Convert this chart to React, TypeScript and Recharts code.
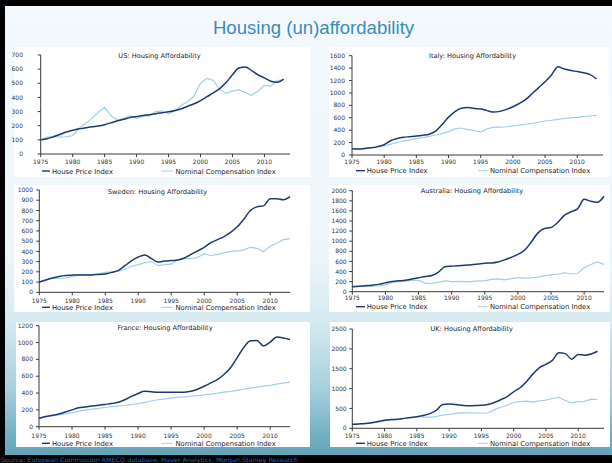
// Housing (un)affordability — six small house price vs compensation charts on one slide.

import { Line, LineChart, XAxis, YAxis } from "recharts";

const YEARS = [
  1975, 1976, 1977, 1978, 1979, 1980, 1981, 1982, 1983, 1984,
  1985, 1986, 1987, 1988, 1989, 1990, 1991, 1992, 1993, 1994,
  1995, 1996, 1997, 1998, 1999, 2000, 2001, 2002, 2003, 2004,
  2005, 2006, 2007, 2008, 2009, 2010, 2011, 2012, 2013,
];
const X_TICKS = [1975, 1980, 1985, 1990, 1995, 2000, 2005, 2010];

const US_HPI = [
  100, 108, 122, 138, 155, 168, 178, 185, 192, 198,
  207, 220, 235, 245, 258, 265, 272, 278, 285, 292,
  298, 308, 320, 338, 355, 378, 405, 432, 462, 505,
  560, 608, 615, 590, 560, 538, 515, 508, 530,
];
const US_COMP = [
  100, 120, 125, 120, 122, 130, 180, 215, 250, 295,
  330, 270, 240, 250, 270, 250, 265, 270, 300, 305,
  285, 305, 345, 370, 410, 500, 535, 520, 455, 430,
  445, 455, 435, 415, 445, 485, 480, 520, 525,
];
const US_Y = [0, 100, 200, 300, 400, 500, 600, 700];

const IT_HPI = [
  100, 95, 103, 115, 135, 165, 230, 265, 285, 295,
  305, 318, 335, 385, 490, 610, 700, 752, 765, 748,
  740, 715, 692, 703, 735, 778, 830, 895, 990, 1085,
  1180, 1290, 1420, 1385, 1360, 1345, 1325, 1295, 1225,
];
const IT_COMP = [
  100, 100, 108, 118, 130, 145, 175, 200, 225, 245,
  263, 280, 300, 322, 345, 376, 420, 435, 410, 395,
  368, 420, 448, 450, 455, 467, 480, 495, 510, 528,
  548, 560, 575, 588, 598, 607, 618, 628, 637,
];
const IT_Y = [0, 200, 400, 600, 800, 1000, 1200, 1400, 1600];

const SE_HPI = [
  100, 120, 140, 155, 165, 168, 170, 170, 170, 175,
  180, 195, 215, 260, 310, 345, 365, 330, 295, 305,
  310, 315, 335, 370, 405, 440, 485, 515, 545, 585,
  640, 715, 800, 835, 845, 915, 915, 905, 935,
];
const SE_COMP = [
  100, 125, 135, 135, 140, 155, 170, 175, 170, 180,
  195, 200, 205, 225, 255, 270, 290, 300, 260, 270,
  275, 320, 330, 330, 340, 375, 360, 370, 385, 400,
  405, 415, 440, 430, 395, 450, 480, 515, 525,
];
const SE_Y = [0, 100, 200, 300, 400, 500, 600, 700, 800, 900, 1000];

const AU_HPI = [
  100, 110, 120, 130, 145, 175, 200, 215, 225, 250,
  275, 300, 320, 390, 495, 505, 515, 525, 535, 550,
  565, 570, 590, 630, 680, 740, 820, 980, 1160, 1250,
  1270, 1370, 1510, 1580, 1640, 1830, 1790, 1770, 1890,
];
const AU_COMP = [
  100, 100, 105, 110, 115, 140, 185, 200, 205, 230,
  225, 170, 160, 190, 215, 200, 205, 200, 200, 215,
  215, 245, 255, 235, 260, 280, 270, 275, 290, 315,
  335, 345, 375, 355, 360, 475, 540, 590, 540,
];
const AU_Y = [0, 200, 400, 600, 800, 1000, 1200, 1400, 1600, 1800, 2000];

const FR_HPI = [
  100, 120, 135, 150, 175, 200, 225, 235, 245, 255,
  265, 275, 290, 320, 360, 395, 420, 415, 410, 408,
  408, 408, 410, 420, 445, 480, 520, 560, 620, 700,
  820, 940, 1020, 1025, 960, 1005, 1065, 1055, 1035,
];
const FR_COMP = [
  100, 115, 128, 140, 152, 168, 185, 198, 208, 218,
  228, 238, 245, 252, 262, 275, 290, 305, 320, 330,
  340, 348, 355, 362, 370, 378, 388, 398, 410, 420,
  432, 445, 458, 470, 482, 492, 505, 518, 530,
];
const FR_Y = [0, 200, 400, 600, 800, 1000, 1200];

const UK_HPI = [
  100, 110, 120, 140, 170, 205, 220, 230, 250, 270,
  290, 320, 370, 450, 600, 610, 600, 580, 565, 575,
  580, 600, 650, 720, 800, 920, 1020, 1180, 1370, 1530,
  1610, 1710, 1900, 1880, 1740, 1860, 1840, 1870, 1940,
];
const UK_COMP = [
  100, 110, 120, 135, 155, 185, 210, 220, 240, 260,
  285, 290, 275, 295, 330, 350, 375, 390, 390, 385,
  385, 385, 470, 530, 580, 650, 670, 685, 660, 690,
  710, 750, 780, 700, 640, 670, 680, 735, 720,
];
const UK_Y = [0, 500, 1000, 1500, 2000, 2500];

const DARK = "#1d3a70";
const LIGHT = "#a2cfe8";
const AXIS = "#3a3a3a";
const FONT = "'DejaVu Sans', sans-serif";

const PANELS = [
  {
    title: "US: Housing Affordability", hpi: US_HPI, comp: US_COMP, yTicks: US_Y, xEnd: 2014,
    box: { x: 8, y: 46, w: 302, h: 132 }, plot: { l: 40.7, r: 290, t: 55, b: 154 },
    yGap: 14.7, xGap: 3.2, tcx: 159.5, tcy: 56, ly: 171, col: "L",
  },
  {
    title: "Italy: Housing Affordability", hpi: IT_HPI, comp: IT_COMP, yTicks: IT_Y, xEnd: 2014,
    box: { x: 322, y: 46, w: 288, h: 132 }, plot: { l: 352, r: 603, t: 55.7, b: 155 },
    yGap: 4, xGap: 2.2, tcx: 472.5, tcy: 55.7, ly: 170.7, col: "R",
  },
  {
    title: "Sweden: Housing Affordability", hpi: SE_HPI, comp: SE_COMP, yTicks: SE_Y, xEnd: 2013,
    box: { x: 8, y: 183, w: 302, h: 130 }, plot: { l: 39.3, r: 290, t: 190, b: 292.3 },
    yGap: 3.3, xGap: 3.6, tcx: 157.5, tcy: 192, ly: 307.3, col: "L",
  },
  {
    title: "Australia: Housing Affordability", hpi: AU_HPI, comp: AU_COMP, yTicks: AU_Y, xEnd: 2013,
    box: { x: 322, y: 183, w: 288, h: 130 }, plot: { l: 352.3, r: 604, t: 190.7, b: 291.7 },
    yGap: 2.6, xGap: 1, tcx: 472, tcy: 191, ly: 306.7, col: "R",
  },
  {
    title: "France: Housing Affordability", hpi: FR_HPI, comp: FR_COMP, yTicks: FR_Y, xEnd: 2013,
    box: { x: 8, y: 320, w: 302, h: 128 }, plot: { l: 39, r: 290, t: 325.7, b: 426.7 },
    yGap: 3, xGap: 4.2, tcx: 165, tcy: 328, ly: 443.3, col: "L",
  },
  {
    title: "UK: Housing Affordability", hpi: UK_HPI, comp: UK_COMP, yTicks: UK_Y, xEnd: 2014,
    box: { x: 322, y: 320, w: 288, h: 128 }, plot: { l: 352.3, r: 604, t: 329, b: 428.3 },
    yGap: 2.6, xGap: 2.6, tcx: 471.7, tcy: 329, ly: 443.3, col: "R",
  },
];

// white card behind each chart
const CARDS = [
  { x: 14, y: 47, w: 296, h: 130 }, { x: 329, y: 47, w: 281, h: 130 },
  { x: 14, y: 185, w: 296, h: 127 }, { x: 329, y: 185, w: 281, h: 127 },
  { x: 16, y: 322, w: 294, h: 125 }, { x: 330, y: 322, w: 280, h: 125 },
];

const LEGEND_X = {
  L: { d1: 42, d2: 50, dt: 52, l1: 161, l2: 173, lt: 175.5 },
  R: { d1: 356, d2: 365, dt: 366.7, l1: 478, l2: 488, lt: 490 },
};

const XH = 16;

function Chart({ p }: { p: any }) {
  const data = YEARS.map((yr, i) => ({ yr, hpi: p.hpi[i], comp: p.comp[i] }));
  const { box, plot } = p;
  const tick = { fontSize: 6, fill: "#333", fontFamily: FONT };
  return (
    <div style={{ position: "absolute", left: box.x, top: box.y, width: box.w, height: box.h }}>
      <LineChart
        width={box.w}
        height={box.h}
        data={data}
        style={{ overflow: "visible" }}
        margin={{
          top: plot.t - box.y,
          right: box.x + box.w - plot.r,
          bottom: box.y + box.h - plot.b - XH,
          left: 0,
        }}
      >
        <XAxis dataKey="yr" type="number" domain={[1975, p.xEnd]} ticks={X_TICKS} interval={0}
               height={XH} tickSize={3} tickMargin={p.xGap} tick={tick} stroke={AXIS} />
        <YAxis type="number" domain={[0, p.yTicks[p.yTicks.length - 1]]} ticks={p.yTicks} interval={0}
               width={plot.l - box.x} tickSize={3} tickMargin={p.yGap} tick={tick} stroke={AXIS} />
        <Line isAnimationActive={false} type="linear" dataKey="comp" stroke={LIGHT} strokeWidth={1.2} dot={false} />
        <Line isAnimationActive={false} type="monotone" dataKey="hpi" stroke={DARK} strokeWidth={1.5} dot={false} />
      </LineChart>
    </div>
  );
}

export default function App() {
  return (
    <div style={{
      position: "absolute", left: 0, top: 0, width: 612, height: 463, overflow: "hidden",
      background: "linear-gradient(to bottom, #f3f9fc 0%, #eef6f9 55%, #d4e9f0 70%, #a6d0dc 84%, #72b0c3 94%, #5f9fb4 100%)",
    }}>
      {CARDS.map((c, i) => (
        <div key={i} style={{ position: "absolute", left: c.x, top: c.y, width: c.w, height: c.h, background: "#ffffff" }} />
      ))}
      {PANELS.map((p, i) => <Chart key={i} p={p} />)}
      <svg width={612} height={463} style={{ position: "absolute", left: 0, top: 0, pointerEvents: "none" }}>
        <rect x={0} y={0} width={612} height={6} fill="#000" />
        <rect x={0} y={0} width={5} height={463} fill="#000" />
        <rect x={0} y={455} width={612} height={8} fill="#000" />
        <text x={313.5} y={34} textAnchor="middle" fontFamily="'Liberation Sans', Arial, sans-serif"
              fontSize={18.6} fill="#3a8dba">Housing (un)affordability</text>
        {PANELS.map((p, i) => {
          const lx = LEGEND_X[p.col as "L" | "R"];
          return (
            <g key={i} fontFamily={FONT}>
              <text x={p.tcx} y={p.tcy + 2.4} textAnchor="middle" fontSize={6.6} fill="#222">{p.title}</text>
              <line x1={lx.d1} x2={lx.d2} y1={p.ly} y2={p.ly} stroke={DARK} strokeWidth={1.4} />
              <text x={lx.dt} y={p.ly + 2.5} fontSize={6.8} fill="#222">House Price Index</text>
              <line x1={lx.l1} x2={lx.l2} y1={p.ly} y2={p.ly} stroke={LIGHT} strokeWidth={1} />
              <text x={lx.lt} y={p.ly + 2.5} fontSize={6.8} fill="#222">Nominal Compensation Index</text>
            </g>
          );
        })}
        <text x={1} y={461.5} fontFamily={FONT} fontSize={6} fill="#2e64a8" textLength={297}
              lengthAdjust="spacingAndGlyphs">
          Source: European Commission AMECO database, Haver Analytics, Morgan Stanley Research
        </text>
      </svg>
    </div>
  );
}
